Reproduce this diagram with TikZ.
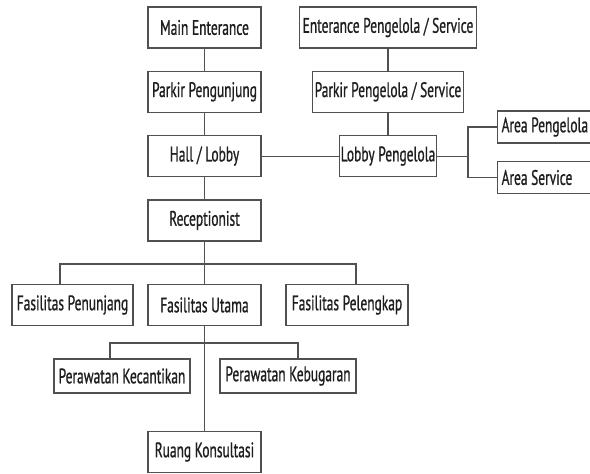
\documentclass[tikz,border=0pt]{standalone}
\usepackage{fontspec}
\setmainfont{PT Sans}[FakeStretch=0.64, FakeBold=0.8]
\usepackage{tikz}
\usetikzlibrary{positioning}
\definecolor{linegray}{RGB}{80, 80, 80}
\definecolor{textdark}{RGB}{30, 30, 30}
\newcommand{\lefttext}[1]{\makebox[92pt][l]{#1}}

\begin{document}
\begin{tikzpicture}[x=1pt, y=-1pt, node distance=22pt and 22pt, >=stealth,
    every node/.style={font=\fontsize{21}{23}\selectfont, text=textdark},
    box/.style={draw=linegray, line width=1.3pt, rectangle, minimum height=41pt, inner sep=1pt},
    sidebox/.style={box, minimum height=32pt, inner xsep=4pt, anchor=west}]
    \tikzset{link/.style={draw=linegray, line width=1.2pt}}
    \useasboundingbox (0,0) rectangle (590,474);

    % main column
    \node [box, minimum width=113pt] (main) at (204.5,27.5) {Main Enterance};
    \node [box, minimum width=113pt, below=of main] (pkpeng) {Parkir Pengunjung};
    \node [box, minimum width=113pt, below=of pkpeng] (hall) {Hall / Lobby};
    \node [box, minimum width=113pt, below=of hall] (recep) {Receptionist};

    % service column
    \node [box, minimum width=177pt] (entserv) at (388,27.5) {Enterance Pengelola / Service};
    \node [box, minimum width=151pt, below=of entserv] (pkserv) {Parkir Pengelola / Service};
    \node [box, minimum width=95pt, below=of pkserv] (lobbyp) {Lobby Pengelola};
    \node [sidebox] (areap) at (497,127) {\lefttext{Area Pengelola}};
    \node [sidebox] (areas) at (497,177.5) {\lefttext{Area Service}};

    % fasilitas
    \node [box, minimum width=113pt] (futama) at (204.5,305) {Fasilitas Utama};
    \node [box, minimum width=121pt] (fpenunjang) at (72.5,305) {Fasilitas Penunjang};
    \node [box, minimum width=122pt] (fpelengkap) at (347,305) {Fasilitas Pelengkap};

    \node [box, minimum width=136pt, minimum height=34pt] (kecantikan) at (122,376) {Perawatan Kecantikan};
    \node [box, minimum width=136pt, minimum height=34pt] (kebugaran) at (288,376) {Perawatan Kebugaran};
    \node [box, minimum width=113pt] (ruang) at (204.5,452) {Ruang Konsultasi};

    % connectors
    \draw [link] (main) -- (pkpeng);
    \draw [link] (pkpeng) -- (hall);
    \draw [link] (hall) -- (recep);
    \draw [link] (entserv) -- (pkserv);
    \draw [link] (pkserv) -- (lobbyp);
    \draw [link] (hall) -- (lobbyp);
    \draw [link] (lobbyp.east) -- ++(31,0) coordinate (fork);
    \draw [link] (areap.west) -| (fork) |- (areas.west);

    \draw [link] (recep) -- (futama);
    \draw [link] ([xshift=-12.5pt]fpenunjang.north) |- (recep.south |- 0,264) -| ([xshift=9pt]fpelengkap.north);
    \draw [link] (futama) -- (ruang);
    \draw [link] ([xshift=-12pt]kecantikan.north) |- (futama.south |- 0,343) -| ([xshift=10pt]kebugaran.north);
\end{tikzpicture}
\end{document}
